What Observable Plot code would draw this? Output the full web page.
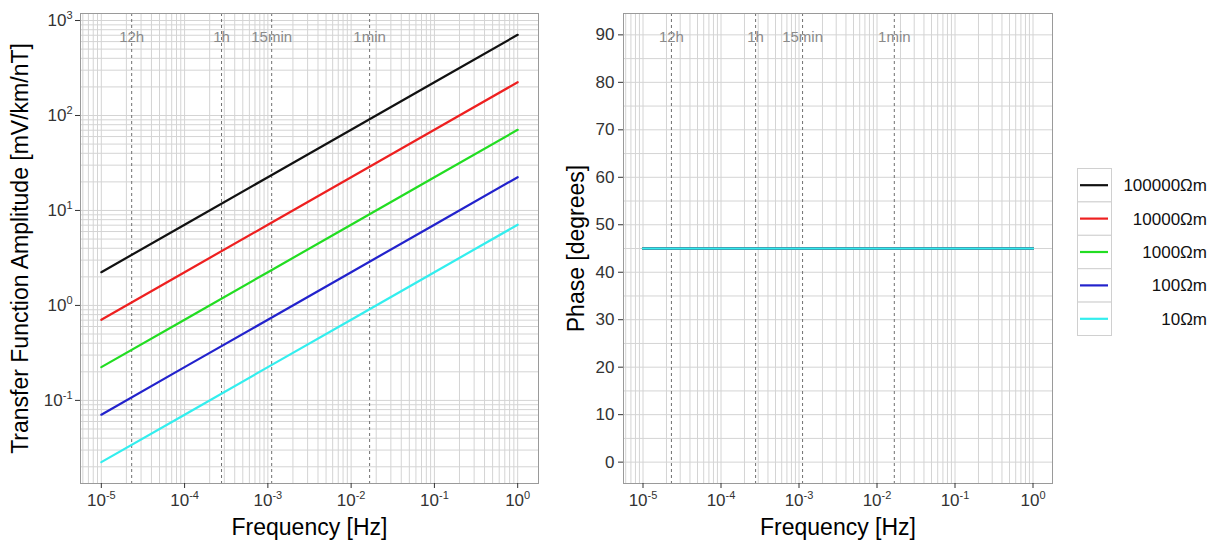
<!DOCTYPE html>
<html><head><meta charset="utf-8">
<script src="https://cdn.jsdelivr.net/npm/d3@7"></script>
<script src="https://cdn.jsdelivr.net/npm/@observablehq/plot@0.6"></script>
<style>
body{margin:0;background:#fff;font-family:"Liberation Sans",Arial,sans-serif;}
#wrap{position:relative;width:1215px;height:546px;overflow:hidden;}
#wrap > svg{position:absolute;top:0;}
</style></head><body><div id="wrap"></div>
<script>
// ---- data ----
const frequency = [1e-5, 1e-4, 1e-3, 1e-2, 1e-1, 1];
const resistivityLabels = ["100000Ωm", "10000Ωm", "1000Ωm", "100Ωm", "10Ωm"];
const seriesColors = ["#111111", "#ee2020", "#22dd22", "#2222cc", "#33eeee"];
const amp100000 = [2.24, 7.07, 22.4, 70.7, 224, 707];
const amp10000  = [0.707, 2.24, 7.07, 22.4, 70.7, 224];
const amp1000   = [0.224, 0.707, 2.24, 7.07, 22.4, 70.7];
const amp100    = [0.0707, 0.224, 0.707, 2.24, 7.07, 22.4];
const amp10     = [0.0224, 0.0707, 0.224, 0.707, 2.24, 7.07];
const phase100000 = [45, 45, 45, 45, 45, 45];
const phase10000  = [45, 45, 45, 45, 45, 45];
const phase1000   = [45, 45, 45, 45, 45, 45];
const phase100    = [45, 45, 45, 45, 45, 45];
const phase10     = [45, 45, 45, 45, 45, 45];
const periodLabels = ["12h", "1h", "15min", "1min"];
const periodSeconds = [43200, 3600, 900, 60];
const xTicks = [1e-5, 1e-4, 1e-3, 1e-2, 1e-1, 1];
const ampTicks = [1e-1, 1, 10, 100, 1000];
const phaseTicks = [0, 10, 20, 30, 40, 50, 60, 70, 80, 90];
const xTitle = "Frequency [Hz]";
const ampTitle = "Transfer Function Amplitude [mV/km/nT]";
const phaseTitle = "Phase [degrees]";

// ---- derived tables ----
const ampSeries = [amp100000, amp10000, amp1000, amp100, amp10];
const phaseSeries = [phase100000, phase10000, phase1000, phase100, phase10];
const ampRows = [], phaseRows = [];
resistivityLabels.forEach((lab, s) => {
  frequency.forEach((f, i) => {
    ampRows.push({f, v: ampSeries[s][i], series: lab});
    phaseRows.push({f, v: phaseSeries[s][i], series: lab});
  });
});
const periodFreq = periodSeconds.map(s => 1 / s);
const xDomain = [10 ** -5.25, 10 ** 0.25];
const ampDomain = [10 ** -1.875, 10 ** 3.074];
const phaseDomain = [-4.5, 94.5];

const gridX = [];
for (let k = -6; k <= 0; k++) for (let m = 1; m <= 9; m++) {
  const v = m * 10 ** k; if (v >= xDomain[0] && v <= xDomain[1]) gridX.push(v);
}
const gridAmp = [];
for (let k = -2; k <= 3; k++) for (let m = 1; m <= 9; m++) {
  const v = m * 10 ** k; if (v >= ampDomain[0] && v <= ampDomain[1]) gridAmp.push(v);
}
const gridPhase = d3.range(0, 91, 5);

const font = '"Liberation Sans", Arial, sans-serif';
const gridColor = "#d4d4d4";
const color = {domain: resistivityLabels, range: seriesColors};
const expFmt = d => "10^" + Math.round(Math.log10(d));

function periodMarks() {
  return [
    Plot.ruleX(periodFreq, {stroke: "#707070", strokeDasharray: "3,3", strokeWidth: 1}),
    Plot.text(periodLabels, {x: (d, i) => periodFreq[i], frameAnchor: "top", lineAnchor: "middle", textAnchor: "middle", dy: 24, fill: "#8a8a8a", fontSize: 15})
  ];
}

const p1 = Plot.plot({
  width: 545, height: 546,
  marginLeft: 80, marginRight: 7, marginTop: 13, marginBottom: 63,
  style: {fontFamily: font, background: "transparent"},
  x: {type: "log", domain: xDomain},
  y: {type: "log", domain: ampDomain},
  color,
  marks: [
    Plot.ruleX(gridX, {stroke: gridColor, strokeWidth: 1}),
    Plot.ruleY(gridAmp, {stroke: gridColor, strokeWidth: 1}),
    ...periodMarks(),
    Plot.line(ampRows, {x: "f", y: "v", z: "series", stroke: "series", strokeWidth: 2.2}),
    Plot.frame({stroke: "#9a9a9a"}),
    Plot.axisX({ticks: xTicks, tickFormat: expFmt, tickSize: 5, tickPadding: 5, fontSize: 17, color: "#333", label: null}),
    Plot.axisY({ticks: ampTicks, tickFormat: expFmt, tickSize: 5, tickPadding: 3, fontSize: 17, color: "#333", label: null}),
    Plot.text([xTitle], {frameAnchor: "bottom", lineAnchor: "middle", textAnchor: "middle", dy: 44, fontSize: 23, fill: "#000"}),
    Plot.text([ampTitle], {frameAnchor: "left", lineAnchor: "middle", textAnchor: "middle", rotate: -90, dx: -60, fontSize: 23, fill: "#000"})
  ]
});

const p2 = Plot.plot({
  width: 510, height: 546,
  marginLeft: 78, marginRight: 3, marginTop: 13, marginBottom: 63,
  style: {fontFamily: font, background: "transparent"},
  x: {type: "log", domain: xDomain},
  y: {type: "linear", domain: phaseDomain},
  color,
  marks: [
    Plot.ruleX(gridX, {stroke: gridColor, strokeWidth: 1}),
    Plot.ruleY(gridPhase, {stroke: gridColor, strokeWidth: 1}),
    ...periodMarks(),
    Plot.line(phaseRows, {x: "f", y: "v", z: "series", stroke: "series", strokeWidth: 2.2}),
    Plot.frame({stroke: "#9a9a9a"}),
    Plot.axisX({ticks: xTicks, tickFormat: expFmt, tickSize: 5, tickPadding: 5, fontSize: 17, color: "#333", label: null}),
    Plot.axisY({ticks: phaseTicks, tickFormat: d => String(d), tickSize: 5, tickPadding: 4, fontSize: 17, color: "#333", label: null}),
    Plot.text([xTitle], {frameAnchor: "bottom", lineAnchor: "middle", textAnchor: "middle", dy: 44, fontSize: 23, fill: "#000"}),
    Plot.text([phaseTitle], {frameAnchor: "left", lineAnchor: "middle", textAnchor: "middle", rotate: -90, dx: -47, fontSize: 23, fill: "#000"})
  ]
});

// superscript exponents in power-of-ten tick labels
function superscript(svg) {
  d3.select(svg).selectAll('g[aria-label$="tick label"] text').each(function () {
    const t = this.textContent;
    if (!t.startsWith("10^")) return;
    const exp = t.slice(3);
    this.textContent = "10";
    d3.select(this).append("tspan").attr("font-size", 11).attr("dy", -7).text(exp);
  });
}
superscript(p1); superscript(p2);

const wrap = document.getElementById("wrap");
p1.style.left = "0px";
p2.style.left = "545px";
wrap.appendChild(p1);
wrap.appendChild(p2);

// legend
const lg = d3.select(wrap).append("svg")
  .attr("width", 155).attr("height", 546)
  .style("left", "1060px").style("font-family", font);
const keyW = 34, keyH = 33.4, keyX = 17, keyTop = 168;
resistivityLabels.forEach((lab, i) => {
  const y = keyTop + i * keyH;
  lg.append("rect").attr("x", keyX + 0.5).attr("y", y + 0.5).attr("width", keyW).attr("height", keyH)
    .attr("fill", "#fff").attr("stroke", "#d0d0d0");
  lg.append("line").attr("x1", keyX + 3).attr("x2", keyX + keyW - 3)
    .attr("y1", y + keyH / 2 + 0.5).attr("y2", y + keyH / 2 + 0.5)
    .attr("stroke", seriesColors[i]).attr("stroke-width", 2.2);
  lg.append("text").attr("x", 147).attr("y", y + keyH / 2 + 0.5).attr("dy", "0.35em")
    .attr("text-anchor", "end").attr("font-size", 17).attr("fill", "#111").text(lab);
});
</script></body></html>
